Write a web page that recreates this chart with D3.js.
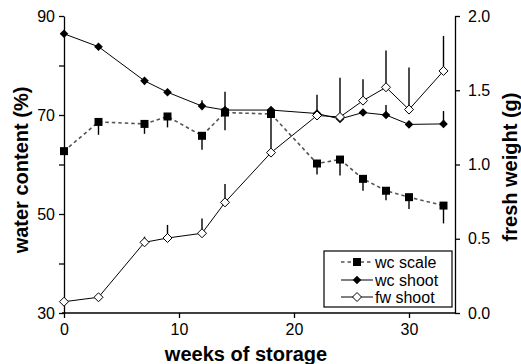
<!DOCTYPE html>
<html>
<head>
<meta charset="utf-8">
<script src="https://cdn.jsdelivr.net/npm/d3@7"></script>
<style>
  body { margin: 0; background: #fff; }
  svg { display: block; font-family: "Liberation Sans", Arial, sans-serif; }
  .axis path, .axis line { stroke: #000; stroke-width: 1.3px; }
  .axis text { font-size: 16px; fill: #000; }
  .title { font-size: 20px; font-weight: bold; }
</style>
</head>
<body>
<script>
// weeks of storage
let weeks = [0, 3, 7, 9, 12, 14, 18, 22, 24, 26, 28, 30, 33];

// water content of the scale (%), error drawn downwards
let wcScale    = [62.7, 68.6, 68.2, 69.7, 65.8, 70.5, 70.2, 60.2, 61.0, 57.1, 54.7, 53.4, 51.7];
let wcScaleErr = [0, 2.6, 2.0, 2.2, 2.8, 3.6, 0, 2.2, 3.2, 2.4, 1.9, 2.4, 3.6];

// water content of the shoot (%), error drawn upwards
let wcShoot    = [86.4, 83.8, 76.9, 74.6, 71.8, 71.0, 71.0, 70.3, 69.2, 70.5, 70.0, 68.1, 68.2];
let wcShootErr = [0, 0, 0, 0, 1.2, 3.7, 0, 0, 0, 0, 2.0, 0, 2.6];

// fresh weight of the shoot (g), error drawn upwards
let fwShoot    = [0.076, 0.106, 0.476, 0.505, 0.537, 0.745, 1.08, 1.33, 1.32, 1.43, 1.52, 1.37, 1.63];
let fwShootErr = [0, 0, 0.038, 0.088, 0.099, 0.123, 0.234, 0.139, 0.265, 0.144, 0.247, 0.283, 0.236];

let xTicks = [0, 10, 20, 30];
let leftTicks = [30, 40, 50, 60, 70, 80, 90];
let leftLabels = [30, 50, 70, 90];
let rightTicks = [0, 0.5, 1.0, 1.5, 2.0];
let legendNames = ["wc scale", "wc shoot", "fw shoot"];

let WIDTH = 521, HEIGHT = 364;
let M = {left: 64, right: 66, top: 16, bottom: 51};

let svg = d3.select("body").append("svg")
  .attr("width", WIDTH)
  .attr("height", HEIGHT);

let x = d3.scaleLinear().domain([0, 34]).range([M.left, WIDTH - M.right]);
let yL = d3.scaleLinear().domain([30, 90]).range([HEIGHT - M.bottom, M.top]);
let yR = d3.scaleLinear().domain([0, 2]).range([HEIGHT - M.bottom, M.top]);

// axes
svg.append("g").attr("class", "axis")
  .attr("transform", "translate(0," + (HEIGHT - M.bottom) + ")")
  .call(d3.axisBottom(x).tickValues(xTicks).tickSize(5).tickPadding(6).tickSizeOuter(0))
  .call(g => g.select(".domain").attr("d", "M" + (M.left - 2) + ",0H" + (WIDTH - M.right)));

svg.append("g").attr("class", "axis")
  .attr("transform", "translate(" + M.left + ",0)")
  .call(d3.axisLeft(yL).tickValues(leftTicks).tickSize(5).tickPadding(4).tickSizeOuter(0)
        .tickFormat(d => leftLabels.includes(d) ? d : ""));

svg.append("g").attr("class", "axis")
  .attr("transform", "translate(" + (WIDTH - M.right) + ",0)")
  .call(d3.axisRight(yR).tickValues(rightTicks).tickSize(5).tickPadding(8).tickSizeOuter(0)
        .tickFormat(d3.format(".1f")));

// axis titles
svg.append("text").attr("class", "title")
  .attr("x", 246).attr("y", 361)
  .attr("text-anchor", "middle")
  .text("weeks of storage");

svg.append("text").attr("class", "title")
  .attr("transform", "translate(28,170) rotate(-90)")
  .attr("text-anchor", "middle")
  .text("water content (%)");

svg.append("text").attr("class", "title")
  .attr("transform", "translate(517,167) rotate(-90)")
  .attr("text-anchor", "middle")
  .text("fresh weight (g)");

// marker helpers
function diamond(r){ return "M0," + (-r) + "L" + r + ",0L0," + r + "L" + (-r) + ",0Z"; }
let squarePath = "M-4,-4H4V4H-4Z";

function series(vals, errs, y, dir, opts){
  let g = svg.append("g");
  let pts = weeks.map((w, i) => [w, vals[i], errs[i]]);
  g.append("path")
    .datum(pts)
    .attr("fill", "none")
    .attr("stroke", opts.stroke)
    .attr("stroke-width", opts.width)
    .attr("stroke-dasharray", opts.dash || null)
    .attr("d", d3.line().x(d => x(d[0])).y(d => y(d[1])));
  g.selectAll("line.err")
    .data(pts.filter(d => d[2] > 0))
    .join("line")
    .attr("class", "err")
    .attr("x1", d => x(d[0])).attr("x2", d => x(d[0]))
    .attr("y1", d => y(d[1])).attr("y2", d => y(d[1] + dir * d[2]))
    .attr("stroke", "#000").attr("stroke-width", 1.4);
  return g;
}

let gScale = series(wcScale, wcScaleErr, yL, -1, {stroke: "#555", width: 1.6, dash: "3.5,3"});
let gShoot = series(wcShoot, wcShootErr, yL, 1, {stroke: "#000", width: 1});
let gFw = series(fwShoot, fwShootErr, yR, 1, {stroke: "#000", width: 1});

gScale.selectAll("path.m").data(weeks).join("path").attr("class", "m")
  .attr("d", squarePath)
  .attr("transform", (d, i) => "translate(" + x(d) + "," + yL(wcScale[i]) + ")")
  .attr("fill", "#000");

gShoot.selectAll("path.m").data(weeks).join("path").attr("class", "m")
  .attr("d", diamond(4.3))
  .attr("transform", (d, i) => "translate(" + x(d) + "," + yL(wcShoot[i]) + ")")
  .attr("fill", "#000");

gFw.selectAll("path.m").data(weeks).join("path").attr("class", "m")
  .attr("d", diamond(4.5))
  .attr("transform", (d, i) => "translate(" + x(d) + "," + yR(fwShoot[i]) + ")")
  .attr("fill", "#fff").attr("stroke", "#000").attr("stroke-width", 1);

// legend
let lg = svg.append("g").attr("transform", "translate(324,251)");
lg.append("rect").attr("width", 128).attr("height", 56)
  .attr("fill", "#fff").attr("stroke", "#000").attr("stroke-width", 1.2);

let rowY = [11, 29, 46];
legendNames.forEach((name, i) => {
  let row = lg.append("g").attr("transform", "translate(0," + rowY[i] + ")");
  row.append("line").attr("x1", 17).attr("x2", 49).attr("y1", 0).attr("y2", 0)
    .attr("stroke", i == 0 ? "#555" : "#000")
    .attr("stroke-width", i == 0 ? 1.6 : 1)
    .attr("stroke-dasharray", i == 0 ? "3.5,3" : null);
  let m = row.append("path").attr("transform", "translate(33,0)");
  if(i == 0) m.attr("d", squarePath).attr("fill", "#000");
  else if(i == 1) m.attr("d", diamond(4.3)).attr("fill", "#000");
  else m.attr("d", diamond(4.5)).attr("fill", "#fff").attr("stroke", "#000");
  row.append("text").attr("x", 51).attr("y", 0).attr("dy", "0.35em")
    .attr("font-size", 16).text(name);
});
</script>
</body>
</html>
